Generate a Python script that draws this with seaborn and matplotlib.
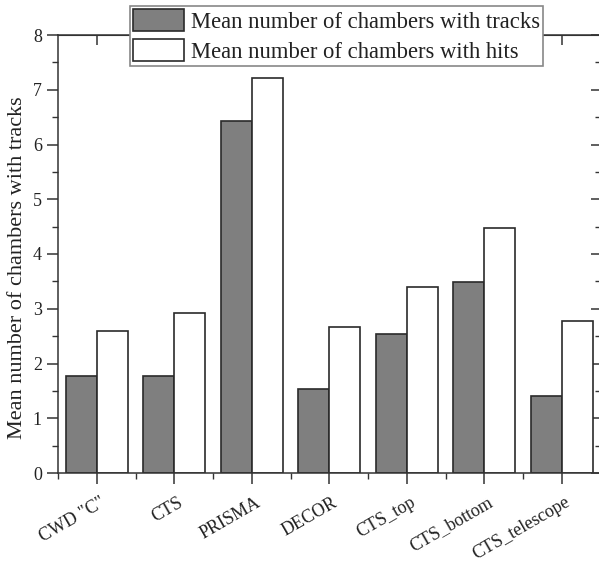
import matplotlib
matplotlib.use("Agg")
import matplotlib.pyplot as plt
from matplotlib.ticker import MultipleLocator, FixedLocator
from matplotlib.transforms import ScaledTranslation
import seaborn as sns
import pandas as pd

categories = ['CWD "C"', 'CTS', 'PRISMA', 'DECOR', 'CTS_top', 'CTS_bottom', 'CTS_telescope']
tracks = [1.77, 1.77, 6.43, 1.53, 2.53, 3.48, 1.41]
hits = [2.60, 2.93, 7.22, 2.67, 3.39, 4.47, 2.78]
series_names = ["Mean number of chambers with tracks", "Mean number of chambers with hits"]
y_label = "Mean number of chambers with tracks"

df = pd.DataFrame({
    "category": categories * 2,
    "value": tracks + hits,
    "series": [series_names[0]] * len(categories) + [series_names[1]] * len(categories),
})

sns.set_style("ticks")
plt.rcParams['font.family'] = ['Liberation Serif', 'DejaVu Serif']

fig = plt.figure(figsize=(5.99, 5.62), dpi=100)
ax = fig.add_axes([58 / 599, 1 - 473 / 562, (600.5 - 58) / 599, (473 - 35) / 562])

sns.barplot(data=df, x="category", y="value", hue="series", ax=ax,
            palette=["#7f7f7f", "#ffffff"], saturation=1, width=0.8,
            edgecolor="#2a2a2a", linewidth=1.2, errorbar=None)

ax.set_xlim(-0.5, len(categories) - 0.5)
ax.set_ylim(0, 8)
ax.yaxis.set_major_locator(MultipleLocator(1))
ax.yaxis.set_minor_locator(MultipleLocator(0.5))
ax.xaxis.set_minor_locator(FixedLocator([i + 0.5 for i in range(-1, len(categories))]))

for s in ax.spines.values():
    s.set_color("#333333")
    s.set_linewidth(1.1)
    s.set_visible(True)

ax.tick_params(axis="both", which="major", length=8, width=1.1, color="#333333",
               labelsize=13, labelcolor="#222222")
ax.tick_params(axis="both", which="minor", length=4, width=1.0, color="#333333")
ax.tick_params(axis="y", which="both", direction="out", right=False)
ax.tick_params(axis="x", which="both", top=False)

ax2 = ax.secondary_yaxis("right")
ax2.yaxis.set_major_locator(MultipleLocator(1))
ax2.yaxis.set_minor_locator(MultipleLocator(0.5))
ax2.tick_params(which="major", direction="in", length=7, width=1.1, color="#333333", labelright=False)
ax2.tick_params(which="minor", direction="in", length=4, width=1.0, color="#333333")
ax2.spines["right"].set_color("#333333")

ax3 = ax.secondary_xaxis("top")
ax3.xaxis.set_major_locator(FixedLocator(list(range(len(categories)))))
ax3.tick_params(which="major", direction="in", length=7, width=1.1, color="#333333", labeltop=False)
ax3.spines["top"].set_color("#333333")

ax.set_xticks(range(len(categories)))
ax.set_xticklabels(categories, rotation=30, ha="right", rotation_mode="anchor", fontsize=13)
offset = ScaledTranslation(3 / 100, -5 / 100, fig.dpi_scale_trans)
for lbl in ax.get_xticklabels():
    lbl.set_transform(lbl.get_transform() + offset)
ax.set_xlabel("")
ax.set_ylabel(y_label, fontsize=16, color="#222222")
ax.yaxis.set_label_coords(-0.057, 0.469)

handles, labels = ax.get_legend_handles_labels()
leg = ax.legend(handles, labels, loc="upper left", bbox_to_anchor=(130 / 599, 1 - 6 / 562),
                bbox_transform=fig.transFigure, fontsize=16.3, frameon=True, fancybox=False,
                edgecolor="#888888", framealpha=1, handlelength=2.25, handleheight=1.1,
                handletextpad=0.3, borderpad=0.14, labelspacing=0.28, borderaxespad=0)
leg.get_frame().set_linewidth(1.2)
for t in leg.get_texts():
    t.set_color("#222222")

fig.savefig("out.png", dpi=100)
